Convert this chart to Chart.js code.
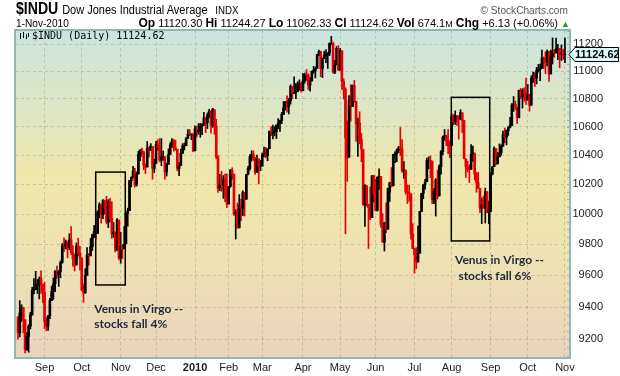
<!DOCTYPE html>
<html>
<head>
<meta charset="utf-8">
<script src="https://cdn.jsdelivr.net/npm/chart.js@4.4.0/dist/chart.umd.min.js"></script>
<style>
html, body { margin: 0; padding: 0; background: #fff; }
#wrap { position: relative; width: 620px; height: 376px; overflow: hidden; font-family: "Liberation Sans", Arial, sans-serif; color: #000; }
#wrap canvas { position: absolute; left: 0; top: 0; }
.hd { position: absolute; white-space: pre; line-height: 1; }
.sx { transform: scaleX(0.88); transform-origin: left top; }
.sxr { transform: scaleX(0.92); transform-origin: right top; }
.b { font-weight: bold; font-size: 12px; }
</style>
</head>
<body>
<div id="wrap">
  <canvas id="chart_indu" width="620" height="376"></canvas>
  <div class="hd sx" style="left:16px;top:1px;"><span style="font-size:16px;font-weight:bold;">$INDU</span> <span style="font-size:12.5px;">Dow Jones Industrial Average</span>  <span style="font-size:11px;">INDX</span></div>
  <div class="hd sxr" style="right:52px;top:5px;font-size:11px;color:#555;">© StockCharts.com</div>
  <div class="hd sx" style="left:16px;top:18px;font-size:11.5px;">1-Nov-2010</div>
  <div class="hd" style="right:50px;top:17px;font-size:11px;"><span class="b">Op</span> 11120.30 <span class="b">Hi</span> 11244.27 <span class="b">Lo</span> 11062.33 <span class="b">Cl</span> 11124.62 <span class="b">Vol</span> 674.1<span style="font-size:9px;">M</span> <span class="b">Chg</span> +6.13 (+0.06%) <span style="color:#1f9a1f;font-size:9px;">▲</span></div>
</div>
<script>
// trading days, Aug 11 2009 .. Nov 1 2010
var dates = [
  '2009-08-11','2009-08-12','2009-08-13','2009-08-14','2009-08-17','2009-08-18','2009-08-19','2009-08-20','2009-08-21','2009-08-24','2009-08-25','2009-08-26','2009-08-27','2009-08-28','2009-08-31',
  '2009-09-01','2009-09-02','2009-09-03','2009-09-04','2009-09-08','2009-09-09','2009-09-10','2009-09-11','2009-09-14','2009-09-15','2009-09-16','2009-09-17','2009-09-18','2009-09-21','2009-09-22','2009-09-23','2009-09-24','2009-09-25','2009-09-28','2009-09-29','2009-09-30',
  '2009-10-01','2009-10-02','2009-10-05','2009-10-06','2009-10-07','2009-10-08','2009-10-09','2009-10-12','2009-10-13','2009-10-14','2009-10-15','2009-10-16','2009-10-19','2009-10-20','2009-10-21','2009-10-22','2009-10-23','2009-10-26','2009-10-27','2009-10-28','2009-10-29','2009-10-30',
  '2009-11-02','2009-11-03','2009-11-04','2009-11-05','2009-11-06','2009-11-09','2009-11-10','2009-11-11','2009-11-12','2009-11-13','2009-11-16','2009-11-17','2009-11-18','2009-11-19','2009-11-20','2009-11-23','2009-11-24','2009-11-25','2009-11-27','2009-11-30',
  '2009-12-01','2009-12-02','2009-12-03','2009-12-04','2009-12-07','2009-12-08','2009-12-09','2009-12-10','2009-12-11','2009-12-14','2009-12-15','2009-12-16','2009-12-17','2009-12-18','2009-12-21','2009-12-22','2009-12-23','2009-12-24','2009-12-28','2009-12-29','2009-12-30','2009-12-31',
  '2010-01-04','2010-01-05','2010-01-06','2010-01-07','2010-01-08','2010-01-11','2010-01-12','2010-01-13','2010-01-14','2010-01-15','2010-01-19','2010-01-20','2010-01-21','2010-01-22','2010-01-25','2010-01-26','2010-01-27','2010-01-28','2010-01-29',
  '2010-02-01','2010-02-02','2010-02-03','2010-02-04','2010-02-05','2010-02-08','2010-02-09','2010-02-10','2010-02-11','2010-02-12','2010-02-16','2010-02-17','2010-02-18','2010-02-19','2010-02-22','2010-02-23','2010-02-24','2010-02-25','2010-02-26',
  '2010-03-01','2010-03-02','2010-03-03','2010-03-04','2010-03-05','2010-03-08','2010-03-09','2010-03-10','2010-03-11','2010-03-12','2010-03-15','2010-03-16','2010-03-17','2010-03-18','2010-03-19','2010-03-22','2010-03-23','2010-03-24','2010-03-25','2010-03-26','2010-03-29','2010-03-30','2010-03-31',
  '2010-04-01','2010-04-05','2010-04-06','2010-04-07','2010-04-08','2010-04-09','2010-04-12','2010-04-13','2010-04-14','2010-04-15','2010-04-16','2010-04-19','2010-04-20','2010-04-21','2010-04-22','2010-04-23','2010-04-26','2010-04-27','2010-04-28','2010-04-29','2010-04-30',
  '2010-05-03','2010-05-04','2010-05-05','2010-05-06','2010-05-07','2010-05-10','2010-05-11','2010-05-12','2010-05-13','2010-05-14','2010-05-17','2010-05-18','2010-05-19','2010-05-20','2010-05-21','2010-05-24','2010-05-25','2010-05-26','2010-05-27','2010-05-28',
  '2010-06-01','2010-06-02','2010-06-03','2010-06-04','2010-06-07','2010-06-08','2010-06-09','2010-06-10','2010-06-11','2010-06-14','2010-06-15','2010-06-16','2010-06-17','2010-06-18','2010-06-21','2010-06-22','2010-06-23','2010-06-24','2010-06-25','2010-06-28','2010-06-29','2010-06-30',
  '2010-07-01','2010-07-02','2010-07-06','2010-07-07','2010-07-08','2010-07-09','2010-07-12','2010-07-13','2010-07-14','2010-07-15','2010-07-16','2010-07-19','2010-07-20','2010-07-21','2010-07-22','2010-07-23','2010-07-26','2010-07-27','2010-07-28','2010-07-29','2010-07-30',
  '2010-08-02','2010-08-03','2010-08-04','2010-08-05','2010-08-06','2010-08-09','2010-08-10','2010-08-11','2010-08-12','2010-08-13','2010-08-16','2010-08-17','2010-08-18','2010-08-19','2010-08-20','2010-08-23','2010-08-24','2010-08-25','2010-08-26','2010-08-27','2010-08-30','2010-08-31',
  '2010-09-01','2010-09-02','2010-09-03','2010-09-07','2010-09-08','2010-09-09','2010-09-10','2010-09-13','2010-09-14','2010-09-15','2010-09-16','2010-09-17','2010-09-20','2010-09-21','2010-09-22','2010-09-23','2010-09-24','2010-09-27','2010-09-28','2010-09-29','2010-09-30',
  '2010-10-01','2010-10-04','2010-10-05','2010-10-06','2010-10-07','2010-10-08','2010-10-11','2010-10-12','2010-10-13','2010-10-14','2010-10-15','2010-10-18','2010-10-19','2010-10-20','2010-10-21','2010-10-22','2010-10-25','2010-10-26','2010-10-27','2010-10-28','2010-10-29',
  '2010-11-01'
];

var opens = [
  9337,9241,9362,9398,9320,9136,9216,9279,9351,9506,9510,9539,9542,9582,9543,
  9492,9310,9281,9345,9441,9497,9547,9627,9604,9626,9683,9791,9784,9820,9779,9830,9749,9706,9667,9790,9742,
  9711,9508,9488,9600,9730,9726,9786,9865,9884,9872,10015,10062,9996,10091,10041,9948,10082,9972,9868,9881,9763,9960,
  9713,9788,9772,9804,10005,10023,10225,10247,10291,10197,10271,10406,10436,10425,10332,10319,10450,10433,10462,10309,
  10344,10471,10453,10367,10388,10389,10285,10337,10406,10471,10500,10452,10440,10308,10329,10415,10464,10467,10520,10548,10544,10548,
  10431,10584,10565,10571,10606,10620,10662,10628,10680,10706,10609,10719,10603,10389,10175,10195,10194,10235,10121,
  10068,10186,10295,10270,10002,10013,9909,10058,10037,10144,10100,10269,10308,10391,10403,10384,10283,10374,10321,
  10326,10405,10406,10396,10445,10567,10552,10564,10565,10611,10624,10643,10686,10734,10779,10740,10786,10888,10837,10842,10851,10896,10907,
  10857,10927,10974,10970,10897,10928,10998,11005,11019,11123,11144,11019,11092,11117,11123,11134,11205,11204,10991,11045,11167,
  11009,11149,10924,10868,10519,10386,10779,10743,10896,10780,10625,10626,10510,10440,10063,10191,10066,10043,9977,10258,
  10133,10025,10252,10254,9931,9813,9938,9900,10147,10212,10191,10403,10410,10435,10451,10443,10293,10297,10152,10144,10136,9869,
  9773,9732,9686,9743,10019,10138,10198,10218,10364,10365,10359,10098,10153,10229,10122,10321,10425,10526,10537,10497,10467,
  10468,10674,10636,10679,10674,10654,10698,10644,10375,10319,10301,10304,10406,10415,10270,10214,10173,10040,10060,10040,10150,10009,
  10016,10270,10322,10446,10341,10389,10415,10463,10543,10526,10572,10595,10608,10753,10760,10738,10663,10860,10812,10857,10836,
  10789,10827,10752,10946,10968,10948,11006,11010,11021,11096,11095,11063,11142,10979,11108,11147,11133,11164,11168,11127,11126,
  11120.30
];

var highs = [
  9340,9440,9414,9399,9321,9241,9290,9367,9524,9580,9626,9574,9590,9630,9544,
  9557,9333,9348,9455,9532,9583,9631,9660,9631,9693,9806,9844,9829,9821,9870,9918,9792,9734,9810,9841,9788,
  9713,9547,9643,9779,9741,9839,9865,9925,9891,10022,10076,10063,10098,10094,10119,10097,10106,10083,9944,9883,9970,9961,
  9880,9800,9918,10008,10040,10227,10251,10323,10310,10285,10427,10437,10450,10426,10342,10496,10458,10481,10462,10372,
  10497,10508,10516,10516,10429,10390,10345,10444,10487,10516,10510,10505,10441,10347,10442,10481,10485,10522,10580,10580,10550,10549,
  10605,10603,10622,10624,10619,10701,10663,10697,10723,10711,10729,10720,10653,10399,10268,10289,10260,10270,10272,
  10187,10302,10314,10271,10030,10074,10131,10100,10157,10146,10269,10324,10404,10431,10430,10386,10401,10374,10365,
  10416,10457,10454,10447,10570,10600,10611,10600,10612,10657,10647,10701,10779,10777,10820,10801,10900,10889,10958,10910,10922,10936,10915,
  10981,10985,11011,10980,10951,11001,11034,11030,11124,11154,11147,11096,11146,11158,11135,11209,11258,11215,11079,11182,11188,
  11168,11149,10943,10879,10641,10822,10900,10897,10932,10780,10661,10706,10552,10440,10199,10191,10066,10183,10260,10263,
  10236,10250,10307,10255,10003,9946,10075,10175,10215,10315,10405,10424,10444,10462,10594,10510,10356,10298,10196,10196,10136,9936,
  9774,9779,9920,10019,10140,10198,10235,10380,10389,10394,10360,10171,10239,10298,10334,10433,10534,10580,10541,10579,10503,
  10692,10685,10712,10680,10675,10720,10699,10644,10376,10359,10335,10474,10463,10415,10280,10282,10174,10108,10120,10175,10150,10087,
  10283,10322,10458,10447,10420,10479,10473,10568,10590,10576,10600,10666,10765,10815,10782,10738,10861,10873,10871,10878,10948,
  10902,10829,10965,10993,10989,11027,11049,11051,11154,11104,11142,11156,11143,11155,11246,11159,11245,11197,11168,11193,11161,
  11244.27
];

var lows = [
  9201,9215,9310,9240,9117,9134,9121,9264,9349,9483,9509,9485,9451,9486,9426,
  9265,9252,9254,9327,9441,9448,9497,9581,9530,9585,9678,9755,9770,9713,9766,9735,9658,9628,9666,9727,9634,
  9500,9430,9487,9600,9665,9726,9760,9844,9836,9872,9974,9940,9970,10000,9935,9910,9946,9840,9847,9751,9763,9700,
  9678,9707,9771,9803,9920,10023,10183,10242,10182,10188,10271,10362,10391,10300,10274,10319,10388,10433,10235,10281,
  10344,10431,10355,10328,10364,10235,10257,10337,10404,10455,10429,10433,10293,10260,10329,10412,10437,10467,10516,10536,10508,10426,
  10431,10528,10546,10525,10543,10607,10558,10587,10661,10554,10595,10546,10375,10145,10158,10153,10106,10084,10043,
  10068,10180,10235,9992,9835,9908,9909,9957,9990,9987,10099,10265,10297,10360,10363,10269,10283,10204,10294,
  10325,10388,10383,10362,10445,10536,10514,10535,10516,10586,10566,10621,10686,10717,10702,10690,10760,10800,10836,10800,10851,10860,10846,
  10857,10912,10930,10865,10854,10928,10985,10950,11019,11111,10959,10952,11091,11062,11019,11113,11195,10985,10981,11045,11002,
  11004,10866,10796,9870,10221,10386,10638,10743,10772,10497,10392,10479,10356,10058,9918,10052,9774,9963,9977,10080,
  10023,10020,10166,9914,9815,9757,9877,9900,10085,10183,10189,10348,10355,10417,10398,10282,10240,10134,10071,10086,9835,9772,
  9614,9643,9686,9743,10017,10103,10167,10218,10307,10247,10071,10070,9987,10101,10122,10270,10404,10504,10467,10411,10384,
  10467,10612,10616,10608,10512,10650,10558,10374,10247,10284,10213,10303,10358,10230,10147,10173,10010,9937,10039,9941,10009,9937,
  10016,10264,10322,10334,10340,10389,10400,10462,10487,10472,10539,10591,10608,10708,10721,10622,10663,10802,10732,10781,10758,
  10789,10710,10752,10917,10888,10906,10993,10929,11021,11019,10981,11038,10924,10979,11052,11101,11133,11083,11025,11078,11085,
  11062.33
];

var closes = [
  9241,9362,9398,9321,9136,9218,9280,9350,9506,9510,9540,9543,9581,9545,9496,
  9310,9280,9345,9441,9497,9547,9627,9605,9626,9683,9791,9784,9820,9778,9829,9749,9707,9666,9789,9742,9712,
  9509,9487,9599,9731,9725,9786,9865,9885,9871,10016,10063,9996,10092,10041,9949,10082,9972,9868,9882,9763,9962,9713,
  9789,9772,9802,10005,10023,10227,10247,10291,10197,10270,10406,10437,10426,10332,10318,10451,10434,10464,10310,10345,
  10472,10453,10367,10388,10390,10286,10337,10405,10471,10501,10452,10441,10309,10328,10414,10464,10467,10520,10547,10545,10548,10428,
  10584,10573,10574,10607,10619,10663,10628,10681,10711,10610,10726,10604,10389,10173,10196,10194,10236,10120,10067,
  10185,10297,10271,10003,10013,9908,10058,10038,10145,10099,10268,10309,10392,10403,10384,10283,10375,10321,10325,
  10404,10406,10397,10444,10567,10553,10564,10567,10611,10625,10642,10686,10734,10779,10742,10786,10889,10836,10842,10851,10896,10907,10857,
  10927,10974,10970,10897,10928,10998,11006,11019,11123,11145,11019,11092,11117,11124,11134,11205,11205,10991,11045,11168,11009,
  11152,10926,10868,10520,10380,10785,10748,10897,10782,10620,10625,10510,10444,10068,10193,10067,10043,9975,10259,10137,
  10025,10249,10256,9932,9816,9940,9899,10173,10212,10191,10405,10410,10435,10450,10443,10294,10298,10152,10144,10138,9870,9774,
  9732,9686,9744,10018,10139,10198,10216,10364,10366,10360,10098,10154,10230,10120,10322,10425,10525,10537,10497,10468,10466,
  10674,10636,10680,10675,10654,10699,10644,10379,10320,10303,10302,10406,10416,10271,10214,10175,10041,10060,10040,10150,10010,10015,
  10270,10320,10448,10341,10388,10415,10462,10544,10527,10573,10595,10608,10753,10761,10739,10662,10860,10813,10858,10835,10788,
  10830,10752,10945,10968,10948,11006,11010,11021,11096,11095,11063,11143,10979,11108,11147,11133,11164,11169,11127,11127,11118,
  11124.62
];

var monthLabels = ['Sep', 'Oct', 'Nov', 'Dec', '2010', 'Feb', 'Mar', 'Apr', 'May', 'Jun', 'Jul', 'Aug', 'Sep', 'Oct', 'Nov'];
var priceTicks = [9200, 9400, 9600, 9800, 10000, 10200, 10400, 10600, 10800, 11000, 11200];

// annotation boxes: bar index range and price range
var boxes = [
  { from: 43.9, to: 60.6, top: 10284, bottom: 9539 },
  { from: 244.8, to: 266.5, top: 10809, bottom: 9823 }
];
var notes = [
  { at: 43.1, price: 9363, text: 'Venus in Virgo --' },
  { at: 43.1, price: 9270, text: 'stocks fall 4%' },
  { at: 246.9, price: 9673, text: 'Venus in Virgo --' },
  { at: 248.8, price: 9568, text: 'stocks fall 6%' }
];

var monthStarts = [];
for (var i = 1; i < dates.length; i++) {
  if (dates[i].slice(0, 7) !== dates[i - 1].slice(0, 7)) monthStarts.push(i);
}

var UP = '#000000', DOWN = '#e60000';
var barColors = closes.map(function (c, i) {
  var prev = i ? closes[i - 1] : opens[i];
  return c < prev ? DOWN : UP;
});

var GRID = 'rgba(150,150,120,0.45)';
var FRAME = '#93b6b4';

var chartPaint = {
  id: 'chartPaint',
  beforeDraw: function (chart) {
    var ctx = chart.ctx, a = chart.chartArea;
    ctx.save();
    ctx.fillStyle = '#ffffff';
    ctx.fillRect(0, 0, chart.width, chart.height);
    var g = ctx.createLinearGradient(0, a.top, 0, a.bottom);
    g.addColorStop(0, '#cbe4e0');
    g.addColorStop(0.45, '#efe7ab');
    g.addColorStop(0.7, '#eee2b2');
    g.addColorStop(1, '#ead4bd');
    ctx.fillStyle = g;
    ctx.fillRect(a.left, a.top, a.right - a.left, a.bottom - a.top);
    ctx.restore();
  },
  afterDraw: function (chart) {
    var ctx = chart.ctx, a = chart.chartArea;
    var xs = chart.scales.x, ys = chart.scales.y;
    ctx.save();

    // minor ticks along the price axis
    ctx.strokeStyle = FRAME;
    ctx.lineWidth = 1;
    for (var v = 9100; v <= 11300; v += 50) {
      var py = Math.round(ys.getPixelForValue(v)) + 0.5;
      if (py < a.top || py > a.bottom) continue;
      ctx.beginPath();
      ctx.moveTo(a.right - 3, py);
      ctx.lineTo(a.right, py);
      ctx.stroke();
    }

    // frame
    ctx.lineWidth = 2;
    ctx.strokeStyle = FRAME;
    ctx.strokeRect(a.left, a.top, a.right - a.left, a.bottom - a.top);

    // annotation boxes
    ctx.strokeStyle = '#000';
    ctx.lineWidth = 1.5;
    boxes.forEach(function (b) {
      var x1 = xs.getPixelForValue(b.from), x2 = xs.getPixelForValue(b.to);
      var y1 = ys.getPixelForValue(b.top), y2 = ys.getPixelForValue(b.bottom);
      ctx.strokeRect(x1, y1, x2 - x1, y2 - y1);
    });

    // notes
    ctx.fillStyle = '#1c2a3c';
    ctx.font = 'bold 12px Lato, "Open Sans", sans-serif';
    ctx.textAlign = 'left';
    ctx.textBaseline = 'alphabetic';
    notes.forEach(function (n) {
      ctx.fillText(n.text, xs.getPixelForValue(n.at), ys.getPixelForValue(n.price));
    });

    // inner title with tiny icon
    ctx.strokeStyle = '#000';
    ctx.lineWidth = 1;
    [[20.5, 33, 39], [23.5, 32, 38], [26.5, 34, 39], [28.5, 33, 37]].forEach(function (s) {
      ctx.beginPath(); ctx.moveTo(s[0], s[1]); ctx.lineTo(s[0], s[2]); ctx.stroke();
    });
    ctx.fillStyle = '#000';
    ctx.font = '10px "DejaVu Sans Mono", monospace';
    ctx.fillText('$INDU (Daily) ' + closes[closes.length - 1].toFixed(2), 32, a.top + 9);

    // last price tag
    var last = closes[closes.length - 1];
    var ty = Math.round(ys.getPixelForValue(last)) + 0.5;
    var tx = a.right - 1;
    ctx.beginPath();
    ctx.moveTo(tx, ty);
    ctx.lineTo(tx + 6, ty - 7);
    ctx.lineTo(618.5, ty - 7);
    ctx.lineTo(618.5, ty + 7);
    ctx.lineTo(tx + 6, ty + 7);
    ctx.closePath();
    ctx.fillStyle = '#dcfafa';
    ctx.fill();
    ctx.strokeStyle = '#000';
    ctx.lineWidth = 1;
    ctx.stroke();
    ctx.fillStyle = '#000';
    ctx.font = 'bold 11px "Liberation Sans", Arial, sans-serif';
    ctx.textBaseline = 'middle';
    ctx.fillText(last.toFixed(2), tx + 6, ty + 0.5);
    ctx.restore();
  }
};

var chart_indu = new Chart(document.getElementById('chart_indu'), {
  type: 'bar',
  data: {
    datasets: [
      {
        label: 'range',
        data: dates.map(function (d, i) { return { x: i, y: [lows[i], highs[i]] }; }),
        backgroundColor: barColors,
        borderWidth: 0,
        barThickness: 1,
        grouped: false,
        order: 2
      },
      {
        label: 'body',
        data: dates.map(function (d, i) { return { x: i, y: [Math.min(opens[i], closes[i]), Math.max(opens[i], closes[i])] }; }),
        backgroundColor: barColors,
        borderWidth: 0,
        barThickness: 2,
        grouped: false,
        order: 1
      }
    ]
  },
  options: {
    responsive: false,
    animation: false,
    events: [],
    layout: { padding: { left: 15, top: 30, right: 17, bottom: 0 } },
    plugins: {
      legend: { display: false },
      tooltip: { enabled: false },
      title: { display: false }
    },
    scales: {
      x: {
        type: 'linear',
        offset: false,
        min: -1.7,
        max: 311.86,
        afterBuildTicks: function (s) { s.ticks = monthStarts.map(function (v) { return { value: v }; }); },
        afterFit: function (s) { s.height = 18; },
        ticks: {
          autoSkip: false,
          maxRotation: 0,
          padding: 3,
          color: '#222',
          font: function (ctx) {
            var bold = ctx.tick && ctx.tick.value === monthStarts[4];
            return { family: '"Liberation Sans", Arial, sans-serif', size: 11, weight: bold ? 'bold' : 'normal' };
          },
          callback: function (v) { return monthLabels[monthStarts.indexOf(v)]; }
        },
        grid: { color: GRID, drawTicks: false, offset: false },
        border: { display: false, dash: [3, 3] }
      },
      y: {
        type: 'logarithmic',
        position: 'right',
        min: 9086,
        max: 11305,
        afterBuildTicks: function (s) { s.ticks = priceTicks.map(function (v) { return { value: v }; }); },
        afterFit: function (s) { s.width = 33; },
        ticks: {
          crossAlign: 'far',
          padding: 2,
          color: '#222',
          font: { family: '"Liberation Sans", Arial, sans-serif', size: 11 },
          callback: function (v) { return String(v); }
        },
        grid: { color: GRID, drawTicks: false },
        border: { display: false, dash: [3, 3] }
      }
    }
  },
  plugins: [chartPaint]
});
</script>
</body>
</html>
